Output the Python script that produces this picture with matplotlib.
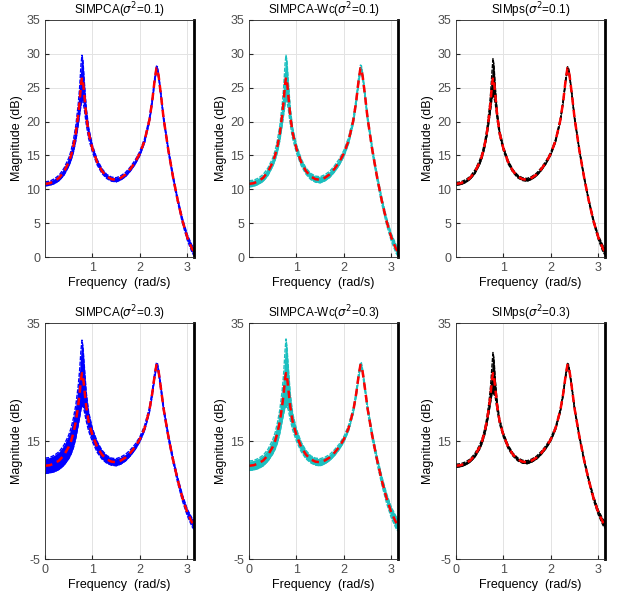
import numpy as np
import matplotlib
matplotlib.use('Agg')
import matplotlib.pyplot as plt

plt.rcParams['font.family'] = ['Liberation Sans', 'DejaVu Sans']
plt.rcParams['font.size'] = 9
plt.rcParams['axes.unicode_minus'] = False

# frequency grid (rad/s) and the true magnitude response (dB)
w = [0.0, 0.1, 0.2, 0.3, 0.4, 0.5, 0.55, 0.6, 0.65, 0.7, 0.73, 0.76, 0.78, 0.80,
     0.83, 0.87, 0.92, 1.0, 1.1, 1.2, 1.3, 1.4, 1.5, 1.6, 1.7, 1.8, 1.9, 2.0, 2.1,
     2.2, 2.26, 2.31, 2.35, 2.37, 2.40, 2.45, 2.5, 2.6, 2.7, 2.8, 2.9, 3.0, 3.1, 3.1416]
mag_true = [10.8, 10.9, 11.2, 11.7, 12.6, 14.0, 15.0, 16.4, 18.3, 21.0, 23.0, 25.5, 26.5, 26.0,
            23.8, 20.8, 18.3, 16.0, 14.0, 12.7, 11.9, 11.5, 11.4, 11.7, 12.2, 13.0, 14.0, 15.3, 17.2,
            20.2, 23.0, 26.0, 27.9, 27.8, 26.5, 23.6, 20.5, 15.8, 11.8, 8.3, 5.3, 2.9, 1.2, 0.8]

# half-width (dB) of the band of Monte Carlo estimates in each panel
spread_pca_01 = [0.3, 0.3, 0.35, 0.4, 0.5, 0.6, 0.7, 0.9, 1.1, 1.5, 2.0, 3.0, 3.3, 3.0,
                 2.0, 1.2, 0.8, 0.5, 0.4, 0.35, 0.3, 0.3, 0.3, 0.3, 0.3, 0.3, 0.3, 0.3, 0.3,
                 0.3, 0.3, 0.3, 0.3, 0.3, 0.3, 0.3, 0.3, 0.3, 0.3, 0.3, 0.35, 0.4, 0.5, 0.6]
spread_wc_01 = [0.45, 0.45, 0.45, 0.5, 0.55, 0.6, 0.7, 0.9, 1.1, 1.5, 2.0, 3.0, 3.3, 3.0,
                2.0, 1.2, 0.8, 0.6, 0.5, 0.45, 0.45, 0.45, 0.45, 0.45, 0.45, 0.45, 0.45, 0.45, 0.45,
                0.45, 0.45, 0.45, 0.45, 0.45, 0.45, 0.45, 0.45, 0.45, 0.45, 0.45, 0.5, 0.55, 0.6, 0.7]
spread_ps_01 = [0.2, 0.2, 0.2, 0.2, 0.25, 0.3, 0.35, 0.4, 0.5, 0.8, 1.2, 2.0, 2.8, 2.4,
                1.2, 0.6, 0.4, 0.3, 0.25, 0.2, 0.2, 0.2, 0.2, 0.2, 0.2, 0.2, 0.2, 0.2, 0.2,
                0.2, 0.2, 0.2, 0.2, 0.2, 0.2, 0.2, 0.2, 0.2, 0.2, 0.2, 0.25, 0.3, 0.45, 0.5]
spread_pca_03 = [1.3, 1.3, 1.4, 1.5, 1.7, 2.0, 2.2, 2.5, 2.8, 3.3, 4.0, 5.0, 5.6, 5.0,
                 3.8, 2.4, 1.6, 1.1, 0.9, 0.75, 0.65, 0.6, 0.6, 0.6, 0.55, 0.5, 0.45, 0.4, 0.4,
                 0.4, 0.4, 0.4, 0.4, 0.4, 0.4, 0.4, 0.4, 0.4, 0.4, 0.45, 0.5, 0.55, 0.7, 0.8]
spread_wc_03 = [0.8, 0.8, 0.85, 0.9, 1.0, 1.2, 1.4, 1.7, 2.0, 2.6, 3.4, 4.8, 5.8, 5.0,
                3.6, 2.2, 1.4, 1.0, 0.8, 0.7, 0.6, 0.6, 0.6, 0.55, 0.5, 0.5, 0.45, 0.45, 0.45,
                0.45, 0.45, 0.45, 0.45, 0.45, 0.45, 0.45, 0.5, 0.55, 0.6, 0.7, 0.8, 0.9, 1.0, 1.1]
spread_ps_03 = [0.25, 0.25, 0.25, 0.25, 0.3, 0.35, 0.4, 0.5, 0.6, 0.9, 1.4, 2.4, 3.5, 3.0,
                1.5, 0.7, 0.45, 0.35, 0.3, 0.25, 0.25, 0.25, 0.25, 0.25, 0.25, 0.25, 0.25, 0.25, 0.25,
                0.25, 0.25, 0.25, 0.25, 0.25, 0.25, 0.25, 0.25, 0.25, 0.25, 0.3, 0.35, 0.4, 0.5, 0.6]

titles = ['SIMPCA($\\sigma^2$=0.1)', 'SIMPCA-Wc($\\sigma^2$=0.1)', 'SIMps($\\sigma^2$=0.1)',
          'SIMPCA($\\sigma^2$=0.3)', 'SIMPCA-Wc($\\sigma^2$=0.3)', 'SIMps($\\sigma^2$=0.3)']
spreads = [spread_pca_01, spread_wc_01, spread_ps_01, spread_pca_03, spread_wc_03, spread_ps_03]
colors = ['#0000ff', '#1cbfbf', '#000000', '#0000ff', '#1cbfbf', '#000000']

W, H = 619, 596
lefts = [45, 249, 456]
fig = plt.figure(figsize=(W / 100, H / 100), dpi=100)

w = np.array(w)
mag_true = np.array(mag_true)

for i in range(6):
    row, col = divmod(i, 3)
    if row == 0:
        top, bot = 20, 257
    else:
        top, bot = 323, 559
    ax = fig.add_axes([lefts[col] / W, 1 - bot / H, 149 / W, (bot - top) / H])

    s = np.array(spreads[i])
    hi = mag_true + s
    lo = mag_true - s
    c = colors[i]
    ax.fill_between(w, lo, hi, color=c, lw=0)
    ax.plot(w, hi, color=c, lw=1.0, ls=(0, (3, 1)))
    ax.plot(w, lo, color=c, lw=1.0, ls=(0, (3, 1)))
    ax.plot(w, mag_true, color=c, lw=1.0, ls=(0, (3, 1)))
    ax.plot(w, mag_true, color='#ff0000', lw=1.8, ls=(0, (3, 2)))

    ax.set_xlim(0, np.pi)
    if row == 0:
        ax.set_ylim(0, 35)
        ax.set_yticks(range(0, 36, 5))
        ax.set_xticks([1, 2, 3])
    else:
        ax.set_ylim(-5, 35)
        ax.set_yticks([-5, 15, 35])
        ax.set_xticks([0, 1, 2, 3])

    ax.grid(True, color='#e3e3e3', lw=0.7)
    ax.set_axisbelow(True)
    ax.tick_params(direction='in', length=3, colors='#262626', labelcolor='#4d4d4d', labelsize=9)
    for sp in ['left', 'top', 'bottom']:
        ax.spines[sp].set_color('#262626')
        ax.spines[sp].set_linewidth(0.6)
    ax.spines['right'].set_color('k')
    ax.spines['right'].set_linewidth(2.0)

    ax.set_title(titles[i], fontsize=8.5, pad=1)
    ax.set_xlabel('Frequency  (rad/s)', fontsize=9, labelpad=2)
    ax.set_ylabel('Magnitude (dB)', fontsize=9, labelpad=2)

fig.savefig('out.png', dpi=100)
